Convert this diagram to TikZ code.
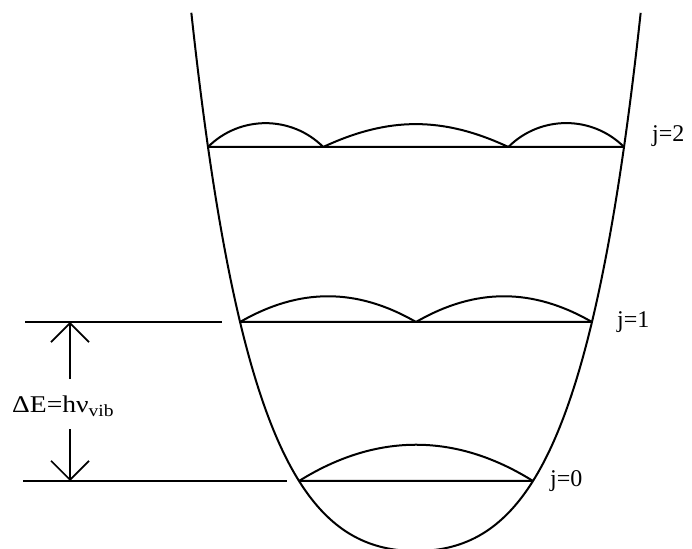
\documentclass[tikz,border=0pt]{standalone}
\usepackage{fontspec}
\setmainfont{Liberation Serif}
\usetikzlibrary{arrows.meta,intersections,calc}
\begin{document}
\begin{tikzpicture}[x=1pt,y=1pt,
  curve/.style={line width=2pt, line join=round},
  level/.style={line width=2pt},
  wave/.style={line width=2pt},
  lab/.style={font=\fontsize{24}{24}\selectfont, inner sep=0pt, anchor=base west},
  dimarrow/.style={line width=1.7pt, -{Straight Barb[length=19pt,width=38pt]}}]
\useasboundingbox (0,0) rectangle (692,548);
% potential well
\draw[curve, name path=well] plot[domain=-23.2:23.2, samples=181, smooth, variable=\t]
  ({416+18.645*\t/(1+0.03989*abs(\t))}, {\t*\t-3});
% level end points on the well
\path[name path=h2] (150,401) -- (700,401);
\path[name path=h1] (150,226) -- (700,226);
\path[name path=h0] (150,67) -- (700,67);
\path[name intersections={of=well and h2, by={L2,R2}, sort by=well}];
\path[name intersections={of=well and h1, by={L1,R1}, sort by=well}];
\path[name intersections={of=well and h0, by={L0,R0}, sort by=well}];
\coordinate (N2a) at ($(L2)!0.277!(R2)$);
\coordinate (N2b) at ($(L2)!0.722!(R2)$);
\coordinate (M1) at ($(L1)!0.5!(R1)$);
\coordinate (E1a) at (25,226); \coordinate (E1b) at (222,226);
\coordinate (E0a) at (23,67); \coordinate (E0b) at (287,67);
\coordinate (T1) at (70,226); \coordinate (T0) at (70,67);
% levels
\draw[level] (L2) -- (R2);
\draw[level] (L1) -- (R1);
\draw[level] (L0) -- (R0);
\draw[level] (E1a) -- (E1b);
\draw[level] (E0a) -- (E0b);
% wave lobes
\draw[wave] (L2) to[bend left=45] (N2a);
\draw[wave] (N2a) to[bend left=25] (N2b);
\draw[wave] (N2b) to[bend left=45] (R2);
\draw[wave] (L1) to[bend left=30] (M1);
\draw[wave] (M1) to[bend left=30] (R1);
\draw[wave] (L0) to[bend left=32] (R0);
% labels
\node[lab] (j2) at (652,406) {j=2};
\node[lab] (j1) at (617,220) {j=1};
\node[lab] (j0) at (550,61) {j=0};
\node[lab] (dE) at (12,135) {\scalebox{1.15}[1]{ΔE=hν\raisebox{-4pt}{\fontsize{17}{17}\selectfont vib}}};
% energy gap arrows
\draw[dimarrow, shorten <=17pt] (dE.north -| T1) -- (T1);
\draw[dimarrow, shorten <=12pt] (dE.south -| T0) -- (T0);
\end{tikzpicture}
\end{document}
